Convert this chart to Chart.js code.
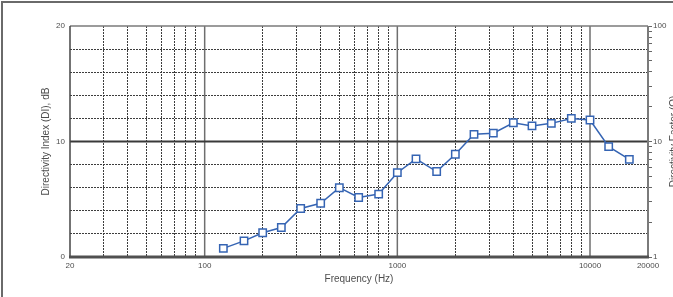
<!DOCTYPE html>
<html>
<head>
<meta charset="utf-8">
<script src="https://cdn.jsdelivr.net/npm/chart.js@4.4.0/dist/chart.umd.min.js"></script>
<style>
  html, body { margin: 0; padding: 0; background: #fff; }
  #wrap { width: 673px; height: 297px; position: relative; }
</style>
</head>
<body>
<div id="wrap"><canvas id="diChart"></canvas></div>
<script>
// 1/3 octave band centres, Hz
const frequencies = [125, 160, 200, 250, 315, 400, 500, 630, 800, 1000, 1250, 1600,
    2000, 2500, 3150, 4000, 5000, 6300, 8000, 10000, 12500, 16000];
// Directivity index, dB
const directivityIndex = [0.75, 1.4, 2.1, 2.55, 4.2, 4.65, 6.0, 5.15, 5.45, 7.3, 8.5, 7.4,
    8.9, 10.62, 10.72, 11.62, 11.35, 11.57, 12.0, 11.86, 9.55, 8.45];

// Axis ticks and labels
const freqTicks = [20, 30, 40, 50, 60, 70, 80, 90, 100, 200, 300, 400, 500, 600, 700, 800, 900,
    1000, 2000, 3000, 4000, 5000, 6000, 7000, 8000, 9000, 10000, 20000];
const freqLabels = [20, 100, 1000, 10000, 20000];
const freqMajor = [100, 1000, 10000];
const diTicks = [0, 2, 4, 6, 8, 10, 12, 14, 16, 18, 20];
const diLabels = [0, 10, 20];
const qTicks = [1, 2, 3, 4, 5, 6, 7, 8, 9, 10, 20, 30, 40, 50, 60, 70, 80, 90, 100];
const qLabels = [1, 10, 100];

const lineBlue = '#3564b3';
const textGrey = '#4d4d4d';
const fontFamily = "'Liberation Sans', Arial, sans-serif";

function crisp(v) {
    return Math.round(v - 0.5) + 0.5;
}

// Grid, frame and right-hand title
const gridPlugin = {
    id: 'diGrid',
    beforeDatasetsDraw(chart) {
        const {ctx, chartArea} = chart;
        const x = chart.scales.x;
        const y = chart.scales.y;
        const {left, right, top, bottom} = chartArea;
        ctx.save();

        // dotted grid
        ctx.setLineDash([2, 1]);
        ctx.lineWidth = 1;
        ctx.strokeStyle = '#3d3d3d';
        diTicks.forEach(v => {
            if (v === 0 || v === 10 || v === 20) return;
            const py = crisp(y.getPixelForValue(v));
            ctx.beginPath();
            ctx.moveTo(left, py);
            ctx.lineTo(right, py);
            ctx.stroke();
        });
        freqTicks.forEach(f => {
            if (freqMajor.includes(f) || f === 20 || f === 20000) return;
            const px = crisp(x.getPixelForValue(f));
            ctx.beginPath();
            ctx.moveTo(px, top);
            ctx.lineTo(px, bottom);
            ctx.stroke();
        });
        ctx.setLineDash([]);

        // solid decade lines
        ctx.strokeStyle = '#6e6e6e';
        ctx.lineWidth = 1.5;
        freqMajor.forEach(f => {
            const px = x.getPixelForValue(f);
            ctx.beginPath();
            ctx.moveTo(px, top);
            ctx.lineTo(px, bottom);
            ctx.stroke();
        });

        // 10 dB line
        ctx.strokeStyle = '#3a3a3a';
        ctx.lineWidth = 2;
        ctx.beginPath();
        ctx.moveTo(left, y.getPixelForValue(10));
        ctx.lineTo(right, y.getPixelForValue(10));
        ctx.stroke();

        // plot frame
        ctx.strokeStyle = '#7a7a7a';
        ctx.lineWidth = 1.5;
        ctx.beginPath();
        ctx.moveTo(left, top);
        ctx.lineTo(right, top);
        ctx.stroke();
        ctx.lineWidth = 2;
        ctx.beginPath();
        ctx.moveTo(right, top);
        ctx.lineTo(right, bottom);
        ctx.stroke();
        ctx.strokeStyle = '#444';
        ctx.lineWidth = 1.5;
        ctx.beginPath();
        ctx.moveTo(left, top);
        ctx.lineTo(left, bottom);
        ctx.stroke();
        ctx.strokeStyle = '#505050';
        ctx.lineWidth = 3;
        ctx.beginPath();
        ctx.moveTo(left - 1, bottom);
        ctx.lineTo(right + 1, bottom);
        ctx.stroke();

        // outer frame (top and left edges of the picture)
        ctx.strokeStyle = '#6a6a6a';
        ctx.lineWidth = 2;
        ctx.beginPath();
        ctx.moveTo(2, chart.height);
        ctx.lineTo(2, 2);
        ctx.lineTo(chart.width, 2);
        ctx.stroke();

        // right axis title, reading bottom to top
        ctx.fillStyle = textGrey;
        ctx.font = '10px ' + fontFamily;
        ctx.textAlign = 'center';
        ctx.textBaseline = 'middle';
        ctx.translate(674, (top + bottom) / 2);
        ctx.rotate(-Math.PI / 2);
        ctx.fillText('Directivity Factor (Q)', 0, 0);
        ctx.restore();
    }
};

new Chart(document.getElementById('diChart'), {
    type: 'line',
    data: {
        datasets: [{
            label: 'DI',
            data: frequencies.map((f, i) => ({x: f, y: directivityIndex[i]})),
            borderColor: lineBlue,
            borderWidth: 1.5,
            backgroundColor: '#fff',
            pointStyle: 'rect',
            pointRadius: 5.2,
            pointBorderWidth: 1.5,
            pointBorderColor: lineBlue,
            pointBackgroundColor: '#fff',
            tension: 0,
            fill: false,
            clip: false,
            yAxisID: 'y'
        }]
    },
    options: {
        responsive: true,
        maintainAspectRatio: false,
        animation: false,
        events: [],
        layout: {
            padding: {top: 26, left: 0, right: 0, bottom: 0}
        },
        plugins: {
            legend: {display: false},
            tooltip: {enabled: false}
        },
        scales: {
            x: {
                type: 'logarithmic',
                min: 20,
                max: 20000,
                afterBuildTicks: scale => {
                    scale.ticks = freqTicks.map(v => ({value: v}));
                },
                afterFit: scale => {
                    scale.height = 40;
                },
                grid: {display: false, drawTicks: false},
                border: {display: false},
                ticks: {
                    autoSkip: false,
                    maxRotation: 0,
                    padding: 4,
                    color: textGrey,
                    font: {size: 8, family: fontFamily},
                    callback: v => freqLabels.includes(v) ? String(v) : ''
                },
                title: {
                    display: true,
                    text: 'Frequency (Hz)',
                    color: textGrey,
                    font: {size: 10, family: fontFamily},
                    padding: {top: 0, bottom: 12}
                }
            },
            y: {
                type: 'linear',
                position: 'left',
                min: 0,
                max: 20,
                afterBuildTicks: scale => {
                    scale.ticks = diTicks.map(v => ({value: v}));
                },
                afterFit: scale => {
                    scale.width = 70;
                },
                grid: {display: false, drawTicks: false},
                border: {display: false},
                ticks: {
                    padding: 5,
                    color: textGrey,
                    font: {size: 8, family: fontFamily},
                    callback: v => diLabels.includes(v) ? String(v) : ''
                },
                title: {
                    display: true,
                    text: 'Directivity Index (DI), dB',
                    color: textGrey,
                    font: {size: 10, family: fontFamily},
                    padding: {top: 40, bottom: 0}
                }
            },
            q: {
                type: 'logarithmic',
                position: 'right',
                min: 1,
                max: 100,
                afterBuildTicks: scale => {
                    scale.ticks = qTicks.map(v => ({value: v}));
                },
                afterFit: scale => {
                    scale.width = 25;
                },
                grid: {
                    display: true,
                    drawOnChartArea: false,
                    drawTicks: true,
                    tickLength: 4,
                    color: '#666',
                    lineWidth: 1
                },
                border: {display: false},
                ticks: {
                    autoSkip: false,
                    padding: 1,
                    color: textGrey,
                    font: {size: 8, family: fontFamily},
                    callback: v => qLabels.includes(v) ? String(v) : ''
                }
            }
        }
    },
    plugins: [gridPlugin]
});
</script>
</body>
</html>
